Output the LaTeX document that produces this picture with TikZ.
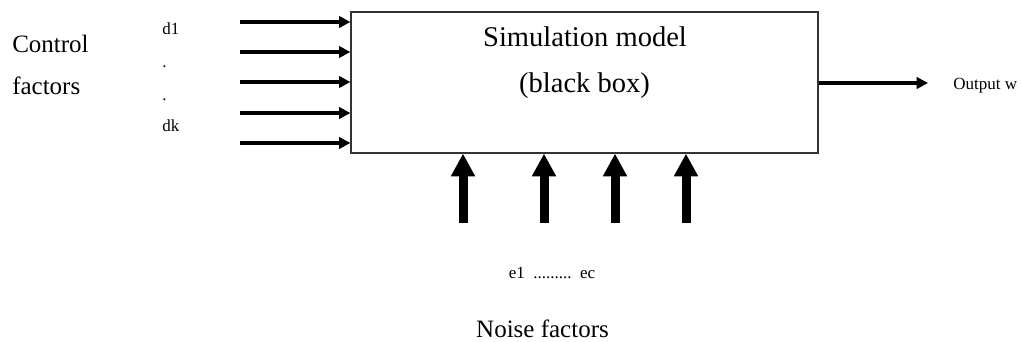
\documentclass[tikz,border=0pt]{standalone}
\usepackage{fontspec}
\setmainfont{Liberation Serif}
\usetikzlibrary{arrows.meta}

\begin{document}
\begin{tikzpicture}[x=0.75pt, y=-0.75pt,
        ctrl/.style={line width=3.4pt, -{Triangle[length=8.5pt, width=8.5pt]}},
        noise/.style={line width=6.75pt, -{Triangle[length=17pt, width=17pt]}},
        big/.style={font=\fontsize{18.75}{22}\selectfont, inner sep=0pt},
        small/.style={font=\fontsize{12.75}{15}\selectfont, inner sep=0pt}]
        \useasboundingbox (0,0) rectangle (1021,342);
        
        % The black box
        \node[draw=black!80, line width=0.9pt, inner sep=0pt,
              minimum width=350.25pt, minimum height=105.75pt] (model) at (584.5,82.5) {};
        \node[big, font=\fontsize{21.4}{25}\selectfont, anchor=base] (title) at (585,47) {Simulation model};
        \node[big, font=\fontsize{21.4}{25}\selectfont, anchor=base] (sub) at (584.5,93) {(black box)};
        
        % Control factors on the left
        \node[big, anchor=base west] (control) at (12,53) {Control};
        \node[big, anchor=base west] (factors) at (12,95) {factors};
        \node[small, anchor=base west] (d1) at (162,35) {d1};
        \node[small, anchor=base west] (dot1) at (162,68) {.};
        \node[small, anchor=base west] (dot2) at (162,101) {.};
        \node[small, anchor=base west] (dk) at (162,132) {dk};
        
        \foreach \y [count=\i] in {22,52,82,113,143} {
            \coordinate (in\i) at (240,\y);
            \draw[ctrl] (in\i) -- (in\i -| model.west);
        }
        
        % Output
        \node[small, anchor=west] (out) at (953,86) {Output w};
        \coordinate (outtip) at (928,83);
        \draw[ctrl] (model.east |- outtip) -- (outtip);
        
        % Noise factors below
        \foreach \x [count=\i] in {463,544,615,686} {
            \coordinate (e\i) at (\x,223);
            \draw[noise] (e\i) -- (e\i |- model.south);
        }
        \node[small, anchor=base] (elist) at (552,278) {e1\ \ .........\ \ ec};
        \node[big, anchor=base] (noisetxt) at (542.5,337) {Noise factors};
        
    \end{tikzpicture}
\end{document}
